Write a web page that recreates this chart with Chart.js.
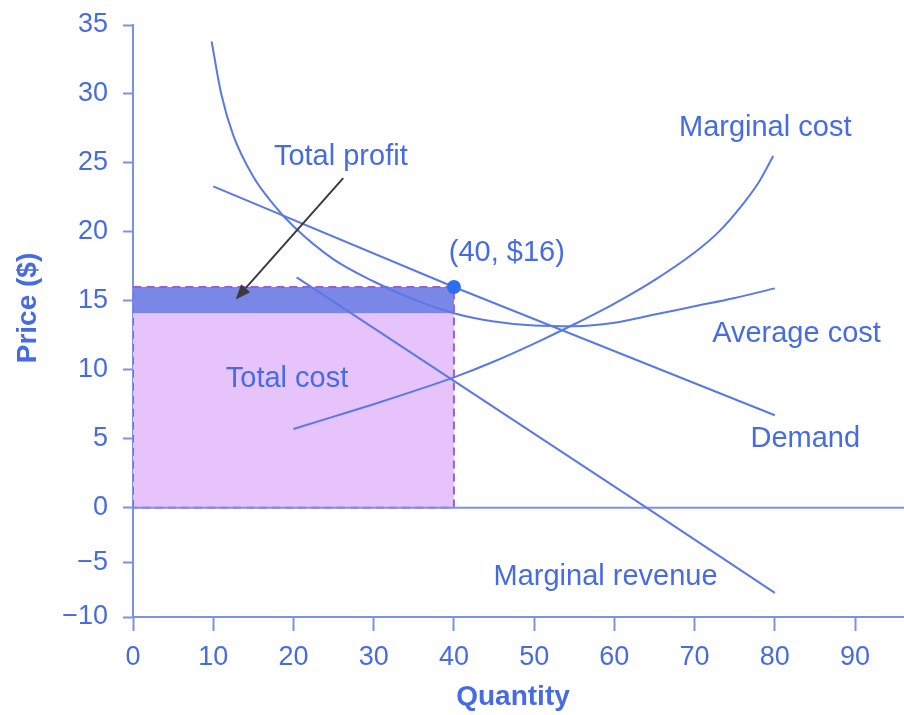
<!DOCTYPE html>
<html><head><meta charset="utf-8">
<style>html,body{margin:0;padding:0;background:#fff;}canvas{display:block;}</style>
<script src="https://cdn.jsdelivr.net/npm/chart.js@4.4.1/dist/chart.umd.min.js"></script>
</head><body>
<canvas id="c" width="904" height="715"></canvas>
<script>
// ---- data ----
const xTickValues = [0, 10, 20, 30, 40, 50, 60, 70, 80, 90];
const yTickValues = [-10, -5, 0, 5, 10, 15, 20, 25, 30, 35];

const demandQ = [10, 40, 80];
const demandP = [23.3, 16, 6.7];

const mrQ = [20.4, 64, 80];
const mrP = [16.7, 0, -7.8];

const mcQ = [20, 25, 30, 35, 40, 45, 50, 55, 60, 65, 70, 73, 76, 78, 79.8];
const mcP = [5.7, 6.6, 7.5, 8.45, 9.45, 10.6, 11.9, 13.3, 14.8, 16.5, 18.5, 20, 22, 23.6, 25.5];

const acQ = [9.8, 11, 12.5, 15, 17.5, 20, 25, 30, 35, 40, 45, 50, 55, 60, 65, 70, 75, 80];
const acP = [33.8, 30, 27, 24, 22, 20.4, 18, 16.4, 15.1, 14.1, 13.5, 13.2, 13.15, 13.4, 14, 14.6, 15.2, 15.9];

const outputQ = 40;      // profit-maximizing quantity
const priceP = 16;       // price at that quantity
const avgCostP = 14.1;   // average cost at that quantity
const rectQ = [0, outputQ];
const xMax = 96.1;

// ---- styles ----
const TEXT = '#476be3';
const LINE = '#5b78e8';
const AXIS = '#7c90e8';
const FONT = '"Liberation Sans", Arial, Helvetica, sans-serif';

// y scale with a compressed negative section (as in the reference)
const NEG_FRAC = 109 / 590;
class BrokenLinearScale extends Chart.LinearScale {
  _dec(v) {
    if (v >= 0) return NEG_FRAC + (1 - NEG_FRAC) * (v / this.max);
    return NEG_FRAC * (v - this.min) / (0 - this.min);
  }
  getPixelForValue(value) {
    if (value === null || value === undefined || isNaN(value)) return NaN;
    return this.getPixelForDecimal(this._dec(+value));
  }
  getValueForPixel(pixel) {
    const d = this.getDecimalForPixel(pixel);
    if (d >= NEG_FRAC) return (d - NEG_FRAC) / (1 - NEG_FRAC) * this.max;
    return this.min + d / NEG_FRAC * (0 - this.min);
  }
}
BrokenLinearScale.id = 'brokenLinear';
BrokenLinearScale.defaults = Chart.LinearScale.defaults;
Chart.register(BrokenLinearScale);

const pts = (qs, ps) => qs.map((q, i) => ({x: q, y: ps[i]}));

const annotationPlugin = {
  id: 'annot',
  afterDatasetsDraw(chart) {
    const {ctx} = chart;
    const X = v => chart.scales.x.getPixelForValue(v);
    const Y = v => chart.scales.y.getPixelForValue(v);
    ctx.save();
    // arrow to profit area
    const x1 = X(26.2), y1 = Y(23.9), x2 = X(12.8), y2 = Y(15.1);
    ctx.strokeStyle = '#3b3b3b'; ctx.fillStyle = '#3b3b3b'; ctx.lineWidth = 2;
    const ang = Math.atan2(y2 - y1, x2 - x1);
    const hl = 15, hw = 6;
    const bx = x2 - hl * Math.cos(ang), by = y2 - hl * Math.sin(ang);
    ctx.beginPath(); ctx.moveTo(x1, y1); ctx.lineTo(bx, by); ctx.stroke();
    ctx.beginPath();
    ctx.moveTo(x2, y2);
    ctx.lineTo(bx + hw * Math.sin(ang), by - hw * Math.cos(ang));
    ctx.lineTo(bx - hw * Math.sin(ang), by + hw * Math.cos(ang));
    ctx.closePath(); ctx.fill();
    // text labels
    ctx.font = '29px ' + FONT;
    ctx.fillStyle = TEXT; ctx.textAlign = 'center'; ctx.textBaseline = 'middle';
    const labels = [
      ['Total profit', 25.9, 25.4],
      ['Total cost', 19.2, 9.3],
      ['(40, $16)', 46.6, 18.5],
      ['Marginal cost', 78.8, 27.5],
      ['Average cost', 82.7, 12.6],
      ['Demand', 83.8, 5.0],
      ['Marginal revenue', 58.9, -6.3]
    ];
    labels.forEach(l => ctx.fillText(l[0], X(l[1]), Y(l[2])));
    // axis titles
    ctx.font = 'bold 28px ' + FONT;
    ctx.fillText('Quantity', 513, 697);
    ctx.translate(28, 308);
    ctx.rotate(-Math.PI / 2);
    ctx.fillText('Price ($)', 0, 0);
    ctx.restore();
  }
};

new Chart(document.getElementById('c'), {
  type: 'line',
  data: {
    datasets: [
      { // profit strip
        data: pts(rectQ, rectQ.map(() => priceP)),
        borderWidth: 0, pointRadius: 0, fill: '+1',
        backgroundColor: '#7b87e6', order: 5
      },
      { // total cost area
        data: pts(rectQ, rectQ.map(() => avgCostP)),
        borderWidth: 0, pointRadius: 0, fill: 'origin',
        backgroundColor: '#e6c4fb', order: 6
      },
      { // dashed outline of the revenue rectangle
        data: pts([0, 0, outputQ, outputQ, 0], [0, priceP, priceP, 0, 0]),
        borderColor: '#a05ad8', borderWidth: 2, borderDash: [8, 5],
        pointRadius: 0, fill: false, order: 4
      },
      { // zero line
        data: pts([0, xMax], [0, 0]),
        borderColor: AXIS, borderWidth: 2, pointRadius: 0, fill: false, order: 3
      },
      { label: 'Demand', data: pts(demandQ, demandP), borderColor: LINE, borderWidth: 2,
        pointRadius: 0, fill: false, order: 2 },
      { label: 'Marginal revenue', data: pts(mrQ, mrP), borderColor: LINE, borderWidth: 2,
        pointRadius: 0, fill: false, order: 2 },
      { label: 'Marginal cost', data: pts(mcQ, mcP), borderColor: LINE, borderWidth: 2,
        pointRadius: 0, fill: false, cubicInterpolationMode: 'monotone', order: 2 },
      { label: 'Average cost', data: pts(acQ, acP), borderColor: LINE, borderWidth: 2,
        pointRadius: 0, fill: false, cubicInterpolationMode: 'monotone', order: 2 },
      { label: 'Point', data: [{x: outputQ, y: priceP}], showLine: false,
        pointRadius: 7, pointBackgroundColor: '#2e6cf0', pointBorderWidth: 0, order: 0 }
    ]
  },
  options: {
    responsive: false,
    animation: false,
    events: [],
    layout: {autoPadding: false, padding: {top: 25, left: 0, right: 0, bottom: 0}},
    plugins: {legend: {display: false}, tooltip: {enabled: false}},
    scales: {
      x: {
        type: 'linear', min: 0, max: xMax,
        afterBuildTicks: s => { s.ticks = xTickValues.map(v => ({value: v})); },
        afterFit: s => { s.height = 98; s.paddingLeft = 0; s.paddingRight = 0; },
        grid: {drawOnChartArea: false, drawTicks: true, tickLength: 14, tickWidth: 2, tickColor: AXIS},
        border: {display: true, color: AXIS, width: 2},
        ticks: {color: TEXT, font: {family: FONT, size: 27}, padding: 10, maxRotation: 0, autoSkip: false},
        title: {display: false}
      },
      y: {
        type: 'brokenLinear', min: -10, max: 35,
        afterBuildTicks: s => { s.ticks = yTickValues.map(v => ({value: v})); },
        afterFit: s => { s.width = 133; s.paddingTop = 0; s.paddingBottom = 0; },
        grid: {drawOnChartArea: false, drawTicks: true, tickLength: 10, tickWidth: 2, tickColor: AXIS},
        border: {display: true, color: AXIS, width: 2},
        ticks: {color: TEXT, font: {family: FONT, size: 27}, padding: 15, autoSkip: false,
                callback: v => v < 0 ? '\u2212' + Math.abs(v) : String(v)},
        title: {display: false}
      }
    }
  },
  plugins: [annotationPlugin]
});
</script>
</body></html>
